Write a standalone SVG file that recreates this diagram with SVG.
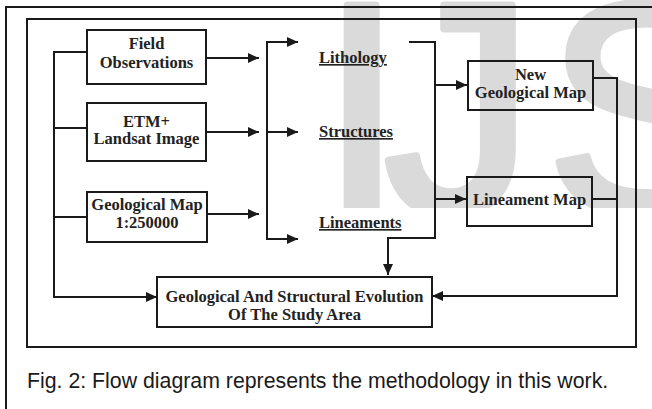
<svg xmlns="http://www.w3.org/2000/svg" width="652" height="409" viewBox="0 0 652 409">
<style>
.box{fill:none;stroke:#1a1a1a;stroke-width:2}
.ln{fill:none;stroke:#1a1a1a;stroke-width:2}
.t{font-family:"Liberation Serif","Times New Roman",serif;font-weight:bold;font-size:16.5px;fill:#222;text-anchor:middle}
.u{font-family:"Liberation Serif","Times New Roman",serif;font-weight:bold;font-size:16.5px;fill:#222;text-decoration:underline}
.cap{font-family:"Liberation Sans",Arial,sans-serif;font-size:21.3px;fill:#1a1a1a}
.wm{font-family:"Liberation Sans",Arial,sans-serif;font-size:300px;fill:#dadada;stroke:#dadada;stroke-width:8;stroke-linejoin:round}
</style>
<defs>
<marker id="ah" markerUnits="userSpaceOnUse" markerWidth="11" markerHeight="10" refX="11" refY="5" orient="auto">
<path d="M0,0 L11,5 L0,10 z" fill="#1a1a1a"/>
</marker>
<clipPath id="wmclip"><rect x="0" y="0" width="652" height="208"/></clipPath>
</defs>
<rect width="652" height="409" fill="#fff"/>
<g clip-path="url(#wmclip)">
<text class="wm" x="320" y="212">I</text>
<text class="wm" x="384" y="212">J</text>
<text class="wm" x="546" y="212">S</text>
</g>
<path class="ln" d="M6,409 V7 H652"/>
<rect x="27" y="19" width="609" height="328" class="box"/>

<g id="field-observations">
<rect x="87" y="30" width="119" height="54" class="box"/>
<text class="t" x="146.5" y="49">Field</text>
<text class="t" x="146.5" y="68">Observations</text>
</g>
<g id="etm-landsat">
<rect x="87" y="103" width="119" height="58" class="box"/>
<text class="t" x="146.5" y="127">ETM+</text>
<text class="t" x="146.5" y="144">Landsat Image</text>
</g>
<g id="geological-map">
<rect x="87" y="192" width="120" height="50" class="box"/>
<text class="t" x="147" y="210">Geological Map</text>
<text class="t" x="147" y="228">1:250000</text>
</g>
<g id="lithology"><text class="u" x="319" y="63">Lithology</text></g>
<g id="structures"><text class="u" x="319" y="137">Structures</text></g>
<g id="lineaments"><text class="u" x="319" y="228">Lineaments</text></g>
<g id="new-geological-map">
<rect x="468" y="61" width="125" height="49" class="box"/>
<text class="t" x="530.5" y="80">New</text>
<text class="t" x="530.5" y="98">Geological Map</text>
</g>
<g id="lineament-map">
<rect x="467" y="177" width="125" height="49" class="box"/>
<text class="t" x="529.5" y="205">Lineament Map</text>
</g>
<g id="evolution">
<rect x="157" y="277" width="275" height="50" class="box"/>
<text class="t" x="294.5" y="302">Geological And Structural Evolution</text>
<text class="t" x="294.5" y="320">Of The Study Area</text>
</g>

<g id="connectors">
<path class="ln" d="M206,58 H259" marker-end="url(#ah)"/>
<path class="ln" d="M206,132 H259" marker-end="url(#ah)"/>
<path class="ln" d="M207,214 H259" marker-end="url(#ah)"/>
<path class="ln" d="M87,52 H54 V297 H157" marker-end="url(#ah)"/>
<path class="ln" d="M54,128 H87"/>
<path class="ln" d="M54,217 H87"/>
<path class="ln" d="M267,42 V239"/>
<path class="ln" d="M266,42 H298" marker-end="url(#ah)"/>
<path class="ln" d="M267,132 H298" marker-end="url(#ah)"/>
<path class="ln" d="M266,239 H298" marker-end="url(#ah)"/>
<path class="ln" d="M409,42 H435 V238 H388 V275" marker-end="url(#ah)"/>
<path class="ln" d="M435,85 H467" marker-end="url(#ah)"/>
<path class="ln" d="M435,199 H466" marker-end="url(#ah)"/>
<path class="ln" d="M593,78 H617 V296 H432" marker-end="url(#ah)"/>
<path class="ln" d="M592,199 H617"/>
</g>

<text class="cap" x="27" y="388">Fig. 2: Flow diagram represents the methodology in this work.</text>
</svg>
